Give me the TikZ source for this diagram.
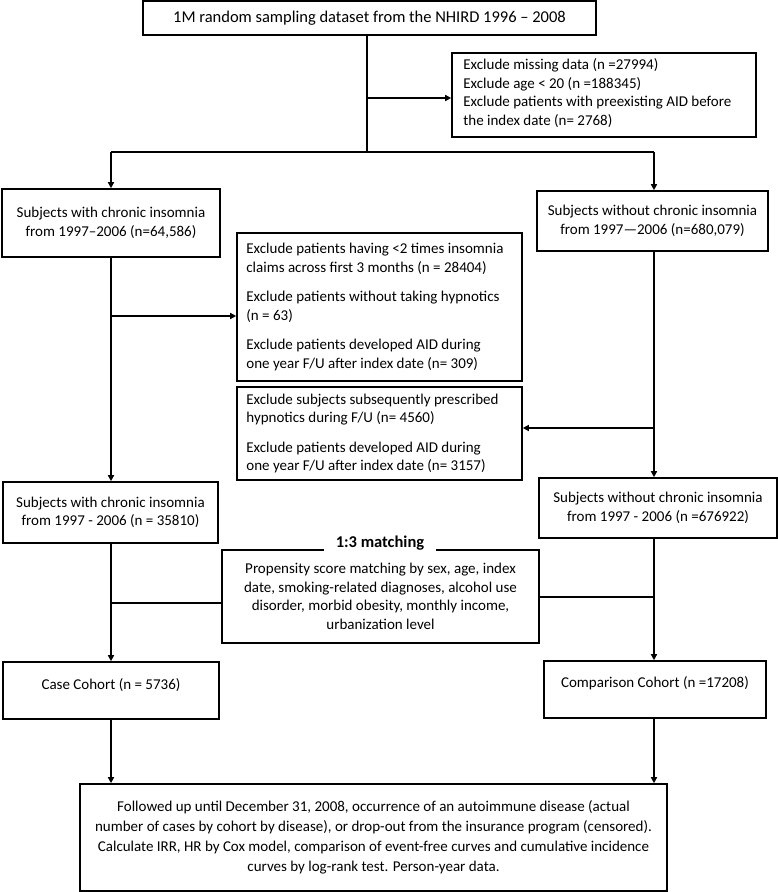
\documentclass[tikz,border=0pt]{standalone}
\usepackage{fontspec}
\setmainfont{Carlito}
\usetikzlibrary{arrows.meta}
\newcommand{\fsA}{\fontsize{15}{18.5}\selectfont}
\newcommand{\fsB}{\fontsize{15}{20}\selectfont}
\newcommand{\fsT}{\fontsize{16.5}{20}\selectfont}
\begin{document}
\begin{tikzpicture}[x=1pt,y=-1pt,
  box/.style={draw, line width=1.6pt, inner sep=0pt, align=center, font=\fsA},
  txt/.style={inner sep=0pt, align=left, font=\fsA, anchor=west},
  conn/.style={line width=1.4pt},
  arr/.style={conn, -{Triangle[length=6pt,width=6pt]}},
  lbl/.style={fill=white, inner xsep=12pt, inner ysep=1pt, font=\fsT\bfseries}
]
\useasboundingbox (0,0) rectangle (778,892);
\node[box, font=\fsT, minimum width=453pt, minimum height=34pt] (top) at (369.5,18) {1M random sampling dataset from the NHIRD 1996 – 2008};
\node[box, minimum width=304pt, minimum height=84pt] (ex1) at (604,95) {};
\node[txt] (ex1t) at ([xshift=12pt,yshift=2pt]ex1.west) {Exclude missing data (n =27994)\\Exclude age < 20 (n =188345)\\Exclude patients with preexisting AID before\\the index date (n= 2768)};
\node[box, minimum width=218pt, minimum height=68pt] (l1) at (111,223) {Subjects with chronic insomnia\\from 1997–2006 (n=64,586)};
\node[box, minimum width=231pt, minimum height=60pt] (r1) at (652.5,221) {Subjects without chronic insomnia\\from 1997—2006 (n=680,079)};
\node[box, minimum width=285pt, minimum height=148pt] (ex2) at (379.5,307) {};
\node[txt] (ex2t) at ([xshift=10pt]ex2.west) {Exclude patients having <2 times insomnia\\claims across first 3 months (n = 28404)\\[11pt]Exclude patients without taking hypnotics\\(n = 63)\\[11pt]Exclude patients developed AID during\\one year F/U after index date (n= 309)};
\node[box, minimum width=285pt, minimum height=93pt] (ex3) at (379.5,433.5) {};
\node[txt] (ex3t) at ([xshift=10pt]ex3.west) {Exclude subjects subsequently prescribed\\hypnotics during F/U (n= 4560)\\[11pt]Exclude patients developed AID during\\one year F/U after index date (n= 3157)};
\node[box, minimum width=215pt, minimum height=61pt] (l2) at (110.5,512.5) {Subjects with chronic insomnia\\from 1997 - 2006 (n = 35810)};
\node[box, minimum width=238pt, minimum height=60pt] (r2) at (658,508) {Subjects without chronic insomnia\\from 1997 - 2006 (n =676922)};
\node[box, minimum width=317pt, minimum height=93pt] (m) at (380.5,596.5) {Propensity score matching by sex, age, index\\date, smoking-related diagnoses, alcohol use\\disorder, morbid obesity, monthly income,\\urbanization level};
\node[lbl] (ml) at (380,543) {1:3 matching};
\node[box, minimum width=216pt, minimum height=57pt, text depth=13.5pt] (c) at (111,690.5) {Case Cohort (n = 5736)};
\node[box, minimum width=222pt, minimum height=57pt, text depth=14.5pt] (p) at (655,689.5) {Comparison Cohort (n =17208)};
\node[box, font=\fsB, minimum width=587pt, minimum height=107pt] (b) at (373.5,837.5) {Followed up until December 31, 2008, occurrence of an autoimmune disease (actual\\number of cases by cohort by disease), or drop-out from the insurance program (censored).\\Calculate IRR, HR by Cox model, comparison of event-free curves and cumulative incidence\\curves by log-rank test. Person-year data.};
% junctions
\coordinate (j0) at (367,152);
\coordinate (jl) at (111,152);
\coordinate (jr) at (654,152);
\coordinate (b1) at (367,98);
\coordinate (b2) at (111,316);
\coordinate (b3) at (654,428);
\coordinate (b4) at (111,603);
\coordinate (b5) at (654,597);
\coordinate (xl) at (111,0);
\coordinate (xr) at (654,0);
\draw[conn] (top.south -| j0) -- (j0);
\draw[arr] (b1) -- (b1 -| ex1.west);
\draw[conn] (jl) -- (jr);
\draw[arr] (jl) -- (jl |- l1.north);
\draw[arr] (jr) -- (jr |- r1.north);
\draw[arr] (xl |- l1.south) -- (xl |- l2.north);
\draw[arr] (b2) -- (b2 -| ex2.west);
\draw[arr] (xr |- r1.south) -- (xr |- r2.north);
\draw[arr] (b3) -- (b3 -| ex3.east);
\draw[arr] (xl |- l2.south) -- (xl |- c.north);
\draw[conn] (b4) -- (b4 -| m.west);
\draw[arr] (xr |- r2.south) -- (xr |- p.north);
\draw[conn] (b5) -- (b5 -| m.east);
\draw[arr] (xl |- c.south) -- (xl |- b.north);
\draw[arr] (xr |- p.south) -- (xr |- b.north);
\end{tikzpicture}
\end{document}
